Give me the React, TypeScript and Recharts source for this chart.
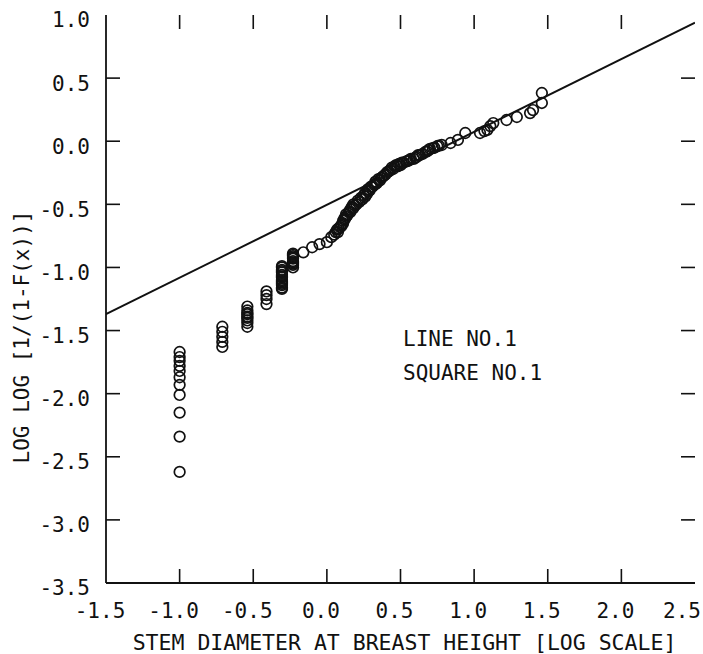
import React from 'react';
import { ScatterChart, Scatter, XAxis, YAxis, ReferenceLine } from 'recharts';

// tick values
const xTicks = [-1.5, -1.0, -0.5, 0.0, 0.5, 1.0, 1.5, 2.0, 2.5];
const yTicks = [1.0, 0.5, 0.0, -0.5, -1.0, -1.5, -2.0, -2.5, -3.0, -3.5];

// stacked columns at the small diameter classes (x, then the y values)
const colA_x = -1.0;
const colA_y = [-1.67, -1.71, -1.74, -1.78, -1.82, -1.87, -1.93, -2.01, -2.15, -2.34, -2.62];
const colB_x = -0.71;
const colB_y = [-1.47, -1.51, -1.55, -1.59, -1.63];
const colC_x = -0.54;
const colC_y = [-1.31, -1.34, -1.36, -1.37, -1.39, -1.4, -1.42, -1.44, -1.47];
const colD_x = -0.41;
const colD_y = [-1.19, -1.22, -1.25, -1.29];
const colE_x = -0.305;
const colE_y = [-0.99, -1.0, -1.02, -1.03, -1.04, -1.06, -1.07, -1.08, -1.1, -1.11, -1.12, -1.13, -1.14, -1.16, -1.17];
const colF_x = -0.23;
const colF_y = [-0.89, -0.9, -0.91, -0.92, -0.93, -0.95, -0.96, -0.97, -0.98, -1.0];

// the upper trail of observations
const trailX = [
  -0.16, -0.1, -0.05, 0.0, 0.03, 0.05, 0.07, 0.075, 0.09, 0.1, 0.11, 0.12, 0.13, 0.14, 0.16, 0.18,
  0.19, 0.2, 0.22, 0.24, 0.26, 0.27, 0.28, 0.29, 0.31, 0.33, 0.34, 0.36, 0.37, 0.39, 0.41, 0.43,
  0.45, 0.48, 0.5, 0.52, 0.54, 0.56, 0.59, 0.61, 0.63, 0.67, 0.69, 0.72, 0.75, 0.78, 0.84, 0.89,
  0.94, 1.04, 1.07, 1.09, 1.11, 1.13, 1.22, 1.29, 1.38, 1.4, 1.46, 1.46,
];
const trailY = [
  -0.88, -0.84, -0.815, -0.8, -0.76, -0.74, -0.7, -0.72, -0.68, -0.66, -0.65, -0.62, -0.6, -0.585,
  -0.56, -0.53, -0.51, -0.5, -0.48, -0.46, -0.44, -0.42, -0.4, -0.39, -0.36, -0.34, -0.33, -0.31,
  -0.29, -0.27, -0.245, -0.23, -0.22, -0.2, -0.19, -0.17, -0.16, -0.15, -0.14, -0.125, -0.11,
  -0.085, -0.07, -0.055, -0.04, -0.03, -0.014, 0.01, 0.065, 0.065, 0.08, 0.09, 0.12, 0.144, 0.168,
  0.192, 0.223, 0.247, 0.303, 0.382,
];

// more observations packed into the dark middle stretch of the trail
const packedX = [
  0.06, 0.08, 0.1, 0.11, 0.12, 0.13, 0.15, 0.16, 0.17, 0.18, 0.21, 0.23, 0.25, 0.26, 0.28, 0.3,
  0.32, 0.33, 0.35, 0.38, 0.4, 0.42, 0.44, 0.46, 0.47, 0.49, 0.51, 0.55, 0.57, 0.6, 0.62, 0.65,
  0.68, 0.7, 0.73, 0.76,
];
const packedY = [
  -0.72, -0.69, -0.67, -0.63, -0.61, -0.58, -0.56, -0.54, -0.52, -0.5, -0.47, -0.45, -0.43, -0.41,
  -0.38, -0.36, -0.345, -0.32, -0.3, -0.28, -0.26, -0.24, -0.21, -0.2, -0.19, -0.18, -0.17, -0.155,
  -0.14, -0.13, -0.11, -0.1, -0.08, -0.06, -0.05, -0.035,
];

// fitted straight line
const lineX = [-1.5, 2.5];
const lineY = [-1.37, 0.94];

const column = (x: number, ys: number[]) => ys.map((y) => ({ x, y }));
const pairs = (xs: number[], ys: number[]) => xs.map((x, i) => ({ x, y: ys[i] }));

const points = [
  ...column(colA_x, colA_y),
  ...column(colB_x, colB_y),
  ...column(colC_x, colC_y),
  ...column(colD_x, colD_y),
  ...column(colE_x, colE_y),
  ...column(colF_x, colF_y),
  ...pairs(trailX, trailY),
  ...pairs(packedX, packedY),
];
const fitLine = pairs(lineX, lineY);

const X_MIN = -1.5;
const X_MAX = 2.5;
const Y_MIN = -3.5;
const Y_MAX = 1.0;
// inward tick length, in axis units (~14px)
const TICK_DX = 0.095;
const TICK_DY = 0.111;

const FONT = '"DejaVu Sans Mono", monospace';
const INK = '#111';
const fmt = (v: number) => v.toFixed(1);

const Ring = (props: any) => (
  <circle cx={props.cx} cy={props.cy} r={5.3} fill="none" stroke={INK} strokeWidth={1.7} />
);

const XTick = (props: any) => {
  const { x, y, payload, index } = props;
  const last = index === xTicks.length - 1;
  return (
    <text
      x={last ? x + 6 : x - 6}
      y={y}
      dy="0.71em"
      textAnchor={last ? 'end' : 'middle'}
      fontFamily={FONT}
      fontSize={21}
      fill={INK}
    >
      {fmt(payload.value)}
    </text>
  );
};

const YTitle = (props: any) => {
  const vb = props.viewBox;
  const cx = vb.x + 22;
  const cy = vb.y + vb.height / 2 + 38;
  return (
    <text
      x={cx}
      y={cy}
      transform={`rotate(-90, ${cx}, ${cy})`}
      textAnchor="middle"
      dominantBaseline="central"
      fontFamily={FONT}
      fontSize={21}
      fill={INK}
    >
      LOG LOG [1/(1-F(x))]
    </text>
  );
};

const tickStroke = { stroke: INK, strokeWidth: 1.6 };

export default function App() {
  return (
    <div style={{ position: 'absolute', left: 0, top: 0, width: 703, height: 654, background: '#fff' }}>
      <ScatterChart width={703} height={654} margin={{ top: 15, right: 8, bottom: 0, left: 0 }}>
        <XAxis
          type="number"
          dataKey="x"
          domain={[X_MIN, X_MAX]}
          ticks={xTicks}
          interval={0}
          allowDataOverflow
          height={71}
          tickSize={0}
          tickMargin={20}
          tickLine={false}
          axisLine={{ stroke: INK, strokeWidth: 1.8 }}
          tick={<XTick />}
          label={{
            value: 'STEM DIAMETER AT BREAST HEIGHT [LOG SCALE]',
            position: 'insideBottom',
            offset: 4,
            dx: 4,
            style: { fill: INK, fontFamily: FONT, fontSize: 21.5 },
          }}
        />
        <YAxis
          type="number"
          dataKey="y"
          domain={[Y_MIN, Y_MAX]}
          ticks={yTicks}
          interval={0}
          allowDataOverflow
          width={106}
          tickSize={0}
          tickMargin={16}
          tickLine={false}
          tickFormatter={fmt}
          axisLine={{ stroke: INK, strokeWidth: 1.8 }}
          tick={{ fill: INK, fontFamily: FONT, fontSize: 21, dy: 5 }}
          label={{ content: YTitle }}
        />
        <XAxis
          xAxisId="top"
          orientation="top"
          type="number"
          dataKey="x"
          domain={[X_MIN, X_MAX]}
          allowDataOverflow
          height={0}
          tick={false}
          tickLine={false}
          axisLine={{ stroke: INK, strokeWidth: 1.8 }}
        />
        <YAxis
          yAxisId="right"
          orientation="right"
          type="number"
          dataKey="y"
          domain={[Y_MIN, Y_MAX]}
          allowDataOverflow
          width={0}
          tick={false}
          tickLine={false}
          axisLine={{ stroke: INK, strokeWidth: 1.8 }}
        />
        {xTicks.slice(1, -1).map((t) => (
          <ReferenceLine key={`b${t}`} segment={[{ x: t, y: Y_MIN }, { x: t, y: Y_MIN + TICK_DY }]} {...tickStroke} />
        ))}
        {xTicks.slice(1, -1).map((t) => (
          <ReferenceLine key={`t${t}`} segment={[{ x: t, y: Y_MAX }, { x: t, y: Y_MAX - TICK_DY }]} {...tickStroke} />
        ))}
        {yTicks.slice(1, -1).map((t) => (
          <ReferenceLine key={`l${t}`} segment={[{ x: X_MIN, y: t }, { x: X_MIN + TICK_DX, y: t }]} {...tickStroke} />
        ))}
        {yTicks.slice(1, -1).map((t) => (
          <ReferenceLine key={`r${t}`} segment={[{ x: X_MAX, y: t }, { x: X_MAX - TICK_DX, y: t }]} {...tickStroke} />
        ))}
        <Scatter data={points} shape={Ring} isAnimationActive={false} />
        <Scatter
          data={fitLine}
          xAxisId="top"
          yAxisId="right"
          line={{ stroke: INK, strokeWidth: 1.9 }}
          shape={() => <g />}
          isAnimationActive={false}
        />
      </ScatterChart>
      <div
        style={{
          position: 'absolute',
          left: 403,
          top: 322,
          fontFamily: FONT,
          fontSize: 21,
          lineHeight: '34px',
          color: INK,
          whiteSpace: 'pre',
        }}
      >
        {'LINE NO.1\nSQUARE NO.1'}
      </div>
    </div>
  );
}
